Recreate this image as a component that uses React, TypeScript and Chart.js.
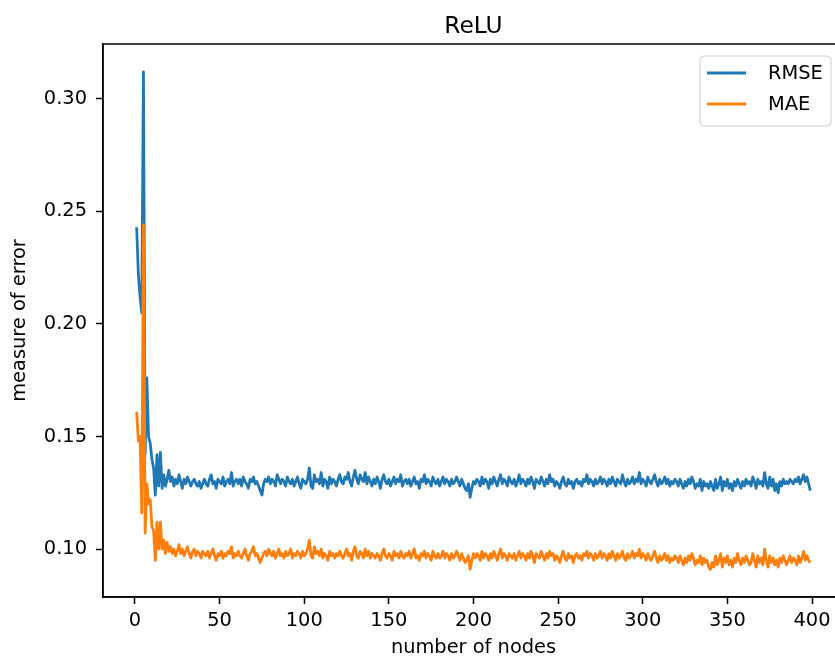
import React, { useEffect, useRef } from "react";
import { Chart, registerables } from "chart.js";

Chart.register(...registerables);

const TITLE = "ReLU";
const X_LABEL = "number of nodes";
const Y_LABEL = "measure of error";
const SERIES_NAMES = ["RMSE", "MAE"];
const SERIES_COLORS = ["#1f77b4", "#ff7f0e"];
const X_TICKS = [0, 50, 100, 150, 200, 250, 300, 350, 400];
const Y_TICKS = [0.1, 0.15, 0.2, 0.25, 0.3];

const rmse = [
  0.243, 0.222, 0.212, 0.205, 0.312, 0.142, 0.176, 0.150, 0.147, 0.140, 0.136, 0.124, 0.142, 0.128, 0.143, 0.127, 0.133, 0.128, 0.131, 0.135,
  0.130, 0.132, 0.128, 0.131, 0.129, 0.133, 0.130, 0.127, 0.131, 0.129, 0.132, 0.130, 0.128, 0.130, 0.131, 0.129, 0.128, 0.130, 0.127, 0.129,
  0.131, 0.129, 0.128, 0.131, 0.133, 0.129, 0.130, 0.127, 0.131, 0.130, 0.129, 0.132, 0.128, 0.130, 0.131, 0.129, 0.134, 0.128, 0.130, 0.131,
  0.129, 0.131, 0.128, 0.132, 0.130, 0.129, 0.127, 0.131, 0.130, 0.132, 0.129, 0.130, 0.128, 0.126, 0.124, 0.129, 0.131, 0.130, 0.132, 0.129,
  0.131, 0.130, 0.128, 0.133, 0.131, 0.129, 0.131, 0.130, 0.128, 0.132, 0.130, 0.129, 0.131, 0.128, 0.130, 0.132, 0.129, 0.127, 0.131, 0.130,
  0.129, 0.131, 0.136, 0.128, 0.127, 0.133, 0.130, 0.131, 0.129, 0.134, 0.128, 0.131, 0.130, 0.127, 0.132, 0.129, 0.131, 0.130, 0.128, 0.131,
  0.133, 0.130, 0.129, 0.132, 0.131, 0.134, 0.130, 0.128, 0.132, 0.135, 0.131, 0.129, 0.133, 0.131, 0.130, 0.134, 0.129, 0.132, 0.130, 0.128,
  0.131, 0.129, 0.132, 0.130, 0.127, 0.131, 0.133, 0.130, 0.129, 0.131, 0.128, 0.130, 0.132, 0.129, 0.131, 0.130, 0.133, 0.128, 0.130, 0.131,
  0.129, 0.131, 0.128, 0.130, 0.132, 0.129, 0.130, 0.127, 0.131, 0.130, 0.133, 0.129, 0.131, 0.130, 0.128, 0.132, 0.130, 0.129, 0.131, 0.128,
  0.130, 0.132, 0.129, 0.131, 0.130, 0.128, 0.131, 0.129, 0.130, 0.132, 0.130, 0.128, 0.131, 0.129, 0.127, 0.126, 0.129, 0.123, 0.127, 0.130,
  0.129, 0.131, 0.130, 0.128, 0.132, 0.129, 0.131, 0.130, 0.127, 0.131, 0.129, 0.132, 0.130, 0.128, 0.131, 0.133, 0.129, 0.131, 0.130, 0.128,
  0.132, 0.130, 0.129, 0.131, 0.128, 0.130, 0.133, 0.129, 0.131, 0.130, 0.128, 0.131, 0.129, 0.132, 0.130, 0.127, 0.131, 0.130, 0.129, 0.132,
  0.130, 0.128, 0.131, 0.129, 0.133, 0.130, 0.131, 0.128, 0.130, 0.129, 0.127, 0.130, 0.132, 0.129, 0.128, 0.131, 0.129, 0.130, 0.127, 0.130,
  0.131, 0.129, 0.130, 0.128, 0.131, 0.130, 0.133, 0.129, 0.131, 0.130, 0.128, 0.131, 0.129, 0.130, 0.132, 0.129, 0.131, 0.130, 0.128, 0.131,
  0.129, 0.132, 0.130, 0.128, 0.131, 0.130, 0.129, 0.133, 0.130, 0.128, 0.131, 0.129, 0.130, 0.132, 0.129, 0.131, 0.130, 0.134, 0.129, 0.131,
  0.130, 0.128, 0.132, 0.130, 0.129, 0.131, 0.133, 0.130, 0.128, 0.131, 0.129, 0.130, 0.132, 0.129, 0.131, 0.128, 0.130, 0.129, 0.131, 0.130,
  0.128, 0.131, 0.129, 0.127, 0.130, 0.128, 0.131, 0.129, 0.132, 0.130, 0.127, 0.129, 0.128, 0.131, 0.126, 0.130, 0.128, 0.129, 0.127, 0.130,
  0.128, 0.126, 0.131, 0.127, 0.129, 0.132, 0.126, 0.130, 0.128, 0.131, 0.127, 0.129, 0.126, 0.130, 0.128, 0.131, 0.129, 0.127, 0.130, 0.128,
  0.131, 0.129, 0.130, 0.128, 0.132, 0.130, 0.127, 0.131, 0.129, 0.130, 0.128, 0.134, 0.129, 0.127, 0.132, 0.128, 0.131, 0.126, 0.129, 0.125,
  0.130, 0.128, 0.131, 0.129, 0.130, 0.129, 0.131, 0.130, 0.129, 0.131, 0.130, 0.132, 0.129, 0.131, 0.133, 0.130, 0.132, 0.129, 0.126,
];

const mae = [
  0.161, 0.148, 0.150, 0.116, 0.244, 0.107, 0.129, 0.120, 0.122, 0.110, 0.108, 0.095, 0.112, 0.100, 0.112, 0.100, 0.104, 0.098, 0.103, 0.099,
  0.101, 0.098, 0.100, 0.097, 0.099, 0.102, 0.098, 0.100, 0.097, 0.099, 0.101, 0.098, 0.096, 0.099, 0.100, 0.097, 0.099, 0.098, 0.096, 0.099,
  0.098, 0.097, 0.099, 0.096, 0.098, 0.100, 0.097, 0.095, 0.098, 0.097, 0.099, 0.096, 0.098, 0.097, 0.099, 0.098, 0.101, 0.096, 0.098, 0.097,
  0.099, 0.097, 0.096, 0.098, 0.100, 0.097, 0.095, 0.098, 0.099, 0.101, 0.097, 0.098, 0.096, 0.094, 0.096, 0.098, 0.099, 0.097, 0.100, 0.098,
  0.097, 0.099, 0.096, 0.098, 0.100, 0.097, 0.098, 0.096, 0.099, 0.097, 0.098, 0.100, 0.096, 0.098, 0.097, 0.099, 0.098, 0.096, 0.099, 0.097,
  0.098, 0.100, 0.104, 0.097, 0.096, 0.101, 0.098, 0.099, 0.097, 0.100, 0.096, 0.098, 0.097, 0.095, 0.099, 0.097, 0.098, 0.096, 0.098, 0.097,
  0.099, 0.097, 0.096, 0.098, 0.100, 0.097, 0.098, 0.095, 0.099, 0.101, 0.097, 0.096, 0.099, 0.098, 0.096, 0.100, 0.097, 0.099, 0.096, 0.098,
  0.097, 0.096, 0.098, 0.097, 0.095, 0.098, 0.100, 0.097, 0.096, 0.098, 0.097, 0.095, 0.099, 0.097, 0.098, 0.096, 0.099, 0.097, 0.096, 0.098,
  0.097, 0.099, 0.096, 0.098, 0.100, 0.096, 0.097, 0.095, 0.098, 0.097, 0.099, 0.096, 0.098, 0.097, 0.095, 0.099, 0.097, 0.096, 0.098, 0.096,
  0.097, 0.099, 0.096, 0.098, 0.097, 0.095, 0.098, 0.096, 0.097, 0.099, 0.097, 0.095, 0.098, 0.096, 0.094, 0.095, 0.097, 0.091, 0.095, 0.098,
  0.096, 0.098, 0.097, 0.095, 0.099, 0.096, 0.098, 0.097, 0.095, 0.098, 0.096, 0.099, 0.097, 0.095, 0.098, 0.100, 0.096, 0.098, 0.097, 0.095,
  0.098, 0.097, 0.096, 0.098, 0.095, 0.097, 0.099, 0.096, 0.098, 0.097, 0.095, 0.098, 0.096, 0.099, 0.097, 0.094, 0.098, 0.097, 0.096, 0.099,
  0.097, 0.095, 0.098, 0.096, 0.099, 0.097, 0.098, 0.095, 0.097, 0.096, 0.094, 0.097, 0.099, 0.096, 0.095, 0.098, 0.096, 0.097, 0.094, 0.097,
  0.098, 0.096, 0.097, 0.095, 0.098, 0.097, 0.099, 0.096, 0.098, 0.097, 0.095, 0.098, 0.096, 0.097, 0.099, 0.096, 0.098, 0.097, 0.095, 0.098,
  0.096, 0.099, 0.097, 0.095, 0.098, 0.096, 0.097, 0.099, 0.096, 0.095, 0.098, 0.096, 0.097, 0.099, 0.096, 0.098, 0.097, 0.100, 0.096, 0.098,
  0.097, 0.095, 0.098, 0.096, 0.095, 0.097, 0.099, 0.096, 0.094, 0.097, 0.095, 0.096, 0.098, 0.095, 0.097, 0.094, 0.096, 0.095, 0.097, 0.096,
  0.094, 0.097, 0.095, 0.093, 0.096, 0.094, 0.097, 0.095, 0.098, 0.096, 0.093, 0.095, 0.094, 0.097, 0.093, 0.096, 0.094, 0.095, 0.092, 0.091,
  0.094, 0.092, 0.097, 0.093, 0.095, 0.098, 0.092, 0.096, 0.094, 0.097, 0.093, 0.095, 0.092, 0.096, 0.094, 0.098, 0.095, 0.093, 0.096, 0.094,
  0.097, 0.095, 0.093, 0.094, 0.098, 0.095, 0.092, 0.097, 0.094, 0.096, 0.093, 0.100, 0.095, 0.092, 0.097, 0.094, 0.096, 0.093, 0.095, 0.092,
  0.096, 0.094, 0.097, 0.095, 0.093, 0.095, 0.097, 0.094, 0.096, 0.095, 0.093, 0.097, 0.094, 0.096, 0.099, 0.095, 0.097, 0.095, 0.094,
];

const nodes = rmse.map((_, i) => i + 1);

const FONT = '"DejaVu Sans", sans-serif';

const framePlugin = {
  id: "mplFrame",
  afterDraw(chart: any) {
    const { ctx, chartArea } = chart;
    ctx.save();
    ctx.strokeStyle = "#000";
    ctx.lineWidth = 1.5;
    ctx.strokeRect(chartArea.left, chartArea.top, chartArea.right - chartArea.left, chartArea.bottom - chartArea.top);
    // title
    ctx.fillStyle = "#000";
    ctx.font = `23.3px ${FONT}`;
    ctx.textAlign = "center";
    ctx.textBaseline = "alphabetic";
    ctx.fillText(TITLE, (chartArea.left + chartArea.right) / 2, chartArea.top - 11.5);
    // legend
    const w = 131, h = 70;
    const x0 = chartArea.right - 13 - w;
    const y0 = chartArea.top + 12;
    ctx.beginPath();
    if (ctx.roundRect) ctx.roundRect(x0, y0, w, h, 4);
    else ctx.rect(x0, y0, w, h);
    ctx.fillStyle = "rgba(255,255,255,0.8)";
    ctx.fill();
    ctx.strokeStyle = "#cccccc";
    ctx.lineWidth = 1;
    ctx.stroke();
    ctx.font = `19.4px ${FONT}`;
    ctx.textAlign = "left";
    ctx.textBaseline = "middle";
    SERIES_NAMES.forEach((name, i) => {
      const yy = y0 + 17 + i * 31;
      ctx.beginPath();
      ctx.strokeStyle = SERIES_COLORS[i];
      ctx.lineWidth = 2.8;
      ctx.moveTo(x0 + 7, yy);
      ctx.lineTo(x0 + 46, yy);
      ctx.stroke();
      ctx.fillStyle = "#000";
      ctx.fillText(name, x0 + 68, yy + 1);
    });
    ctx.restore();
  },
};

export default function App() {
  const ref = useRef<HTMLCanvasElement | null>(null);
  useEffect(() => {
    if (!ref.current) return;
    Chart.defaults.font.family = FONT;
    Chart.defaults.color = "#000";
    const chart = new Chart(ref.current, {
      type: "line",
      data: {
        datasets: [
          {
            label: SERIES_NAMES[0],
            data: rmse.map((v, i) => ({ x: nodes[i], y: v })),
            borderColor: SERIES_COLORS[0],
            backgroundColor: SERIES_COLORS[0],
            borderWidth: 2.8,
            pointRadius: 0,
            tension: 0,
            borderJoinStyle: "round",
            order: 1,
          },
          {
            label: SERIES_NAMES[1],
            data: mae.map((v, i) => ({ x: nodes[i], y: v })),
            borderColor: SERIES_COLORS[1],
            backgroundColor: SERIES_COLORS[1],
            borderWidth: 2.8,
            pointRadius: 0,
            tension: 0,
            borderJoinStyle: "round",
            order: 0,
          },
        ],
      },
      options: {
        animation: false,
        responsive: false,
        maintainAspectRatio: false,
        layout: { padding: { top: 44, right: 6, left: 0, bottom: 0 } },
        plugins: { legend: { display: false }, title: { display: false }, tooltip: { enabled: false } },
        scales: {
          x: {
            type: "linear",
            min: -18.9,
            max: 418.9,
            afterBuildTicks: (s: any) => {
              s.ticks = X_TICKS.map((v) => ({ value: v }));
            },
            afterFit: (s: any) => {
              s.height = 61;
            },
            ticks: {
              font: { size: 19.4 },
              color: "#000",
              padding: 5,
              maxRotation: 0,
              autoSkip: false,
              callback: (v: any) => String(v),
            },
            grid: { display: true, drawOnChartArea: false, drawTicks: true, tickLength: 7, tickColor: "#000", tickWidth: 1.5 },
            border: { display: true, color: "#000", width: 1.5 },
            title: { display: true, text: X_LABEL, font: { size: 19.4, lineHeight: 1 }, color: "#000", padding: { top: 0, bottom: 0 } },
          },
          y: {
            type: "linear",
            min: 0.0787,
            max: 0.3244,
            afterBuildTicks: (s: any) => {
              s.ticks = Y_TICKS.map((v) => ({ value: v }));
            },
            afterFit: (s: any) => {
              s.width = 103;
            },
            ticks: {
              font: { size: 19.4 },
              color: "#000",
              padding: 9,
              autoSkip: false,
              callback: (v: any) => Number(v).toFixed(2),
            },
            grid: { display: true, drawOnChartArea: false, drawTicks: true, tickLength: 7, tickColor: "#000", tickWidth: 1.5 },
            border: { display: true, color: "#000", width: 1.5 },
            title: { display: true, text: Y_LABEL, font: { size: 19.4, lineHeight: 1 }, color: "#000", padding: { top: 10, bottom: 0 } },
          },
        },
      },
      plugins: [framePlugin],
    } as any);
    return () => chart.destroy();
  }, []);
  return (
    <div style={{ position: "fixed", left: 0, top: 0, width: 835, height: 658, overflow: "hidden", background: "#fff" }}>
      <canvas ref={ref} width={850} height={658} style={{ display: "block", width: 850, height: 658 }} />
    </div>
  );
}
